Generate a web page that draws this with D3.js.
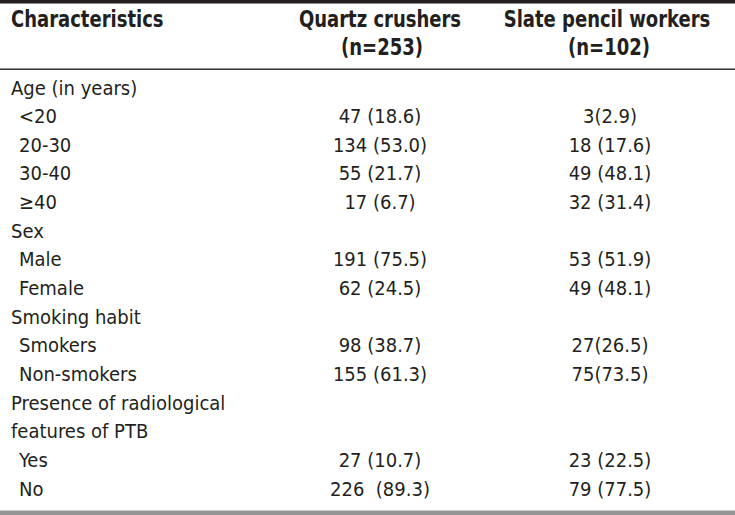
<!DOCTYPE html>
<html>
<head>
<meta charset="utf-8">
<script src="https://cdn.jsdelivr.net/npm/d3@7"></script>
<style>
  html, body { margin: 0; padding: 0; background: #fff; }
  svg { display: block; }
  text { font-family: "Liberation Sans Narrow", "Arial Narrow", "DejaVu Sans Condensed", "Liberation Sans", sans-serif; font-stretch: condensed; fill: #231f20; }
</style>
</head>
<body>
<svg id="chart" width="735" height="515"></svg>
<script>
// ---- data ----
const columns = ["Characteristics", "Quartz crushers", "Slate pencil workers"];
const columnSub = ["", "(n=253)", "(n=102)"];
const rowLabels = [
  "Age (in years)", "<20", "20-30", "30-40", "≥40",
  "Sex", "Male", "Female",
  "Smoking habit", "Smokers", "Non-smokers",
  "Presence of radiological", "features of PTB", "Yes", "No"
];
const rowIndent = [0, 1, 1, 1, 1, 0, 1, 1, 0, 1, 1, 0, 0, 1, 1];
const quartzValues = [
  "", "47 (18.6)", "134 (53.0)", "55 (21.7)", "17 (6.7)",
  "", "191 (75.5)", "62 (24.5)",
  "", "98 (38.7)", "155 (61.3)",
  "", "", "27 (10.7)", "226  (89.3)"
];
const slateValues = [
  "", "3(2.9)", "18 (17.6)", "49 (48.1)", "32 (31.4)",
  "", "53 (51.9)", "49 (48.1)",
  "", "27(26.5)", "75(73.5)",
  "", "", "23 (22.5)", "79 (77.5)"
];

// ---- layout ----
const W = 735, H = 515;
const svg = d3.select("#chart");

const y = d3.scalePoint()
  .domain(d3.range(rowLabels.length))
  .range([94.5, 495.5]);

const colX = d3.scaleOrdinal()
  .domain(columns)
  .range([11, 380, 607]);

// rules
svg.append("rect").attr("x", 0).attr("y", 0).attr("width", W).attr("height", 3.5).attr("fill", "#231f20");
svg.append("rect").attr("x", 0).attr("y", 68.5).attr("width", W).attr("height", 1.4).attr("fill", "#231f20");
svg.append("rect").attr("x", 0).attr("y", 510.5).attr("width", W).attr("height", 4.5).attr("fill", "#959595");

// header (bold, condensed horizontally)
const hdr = svg.append("g");
const hdrScale = 0.87;
columns.forEach((c, i) => {
  hdr.append("text")
    .attr("transform", `translate(${colX(c)},27) scale(${hdrScale},1)`)
    .attr("text-anchor", i === 0 ? "start" : "middle")
    .attr("font-weight", "bold")
    .attr("font-size", 23)
    .text(c);
  if (columnSub[i]) {
    hdr.append("text")
      .attr("transform", `translate(${colX(c) + 2},55) scale(${hdrScale},1)`)
      .attr("text-anchor", "middle")
      .attr("font-weight", "bold")
      .attr("font-size", 23)
      .text(columnSub[i]);
  }
});

// body
const body = svg.append("g");
body.selectAll("text.lab")
  .data(rowLabels)
  .join("text")
  .attr("class", "lab")
  .attr("x", (d, i) => colX(columns[0]) + rowIndent[i] * 8)
  .attr("y", (d, i) => y(i))
  .attr("font-size", 20)
  .style("white-space", "pre")
  .text(d => d);

[[quartzValues, columns[1]], [slateValues, columns[2]]].forEach(([vals, col]) => {
  body.selectAll(null)
    .data(vals)
    .join("text")
    .attr("x", colX(col) + (col === columns[2] ? 3 : 0))
    .attr("y", (d, i) => y(i))
    .attr("text-anchor", "middle")
    .attr("font-size", 20)
    .style("white-space", "pre")
    .text(d => d);
});
</script>
</body>
</html>
